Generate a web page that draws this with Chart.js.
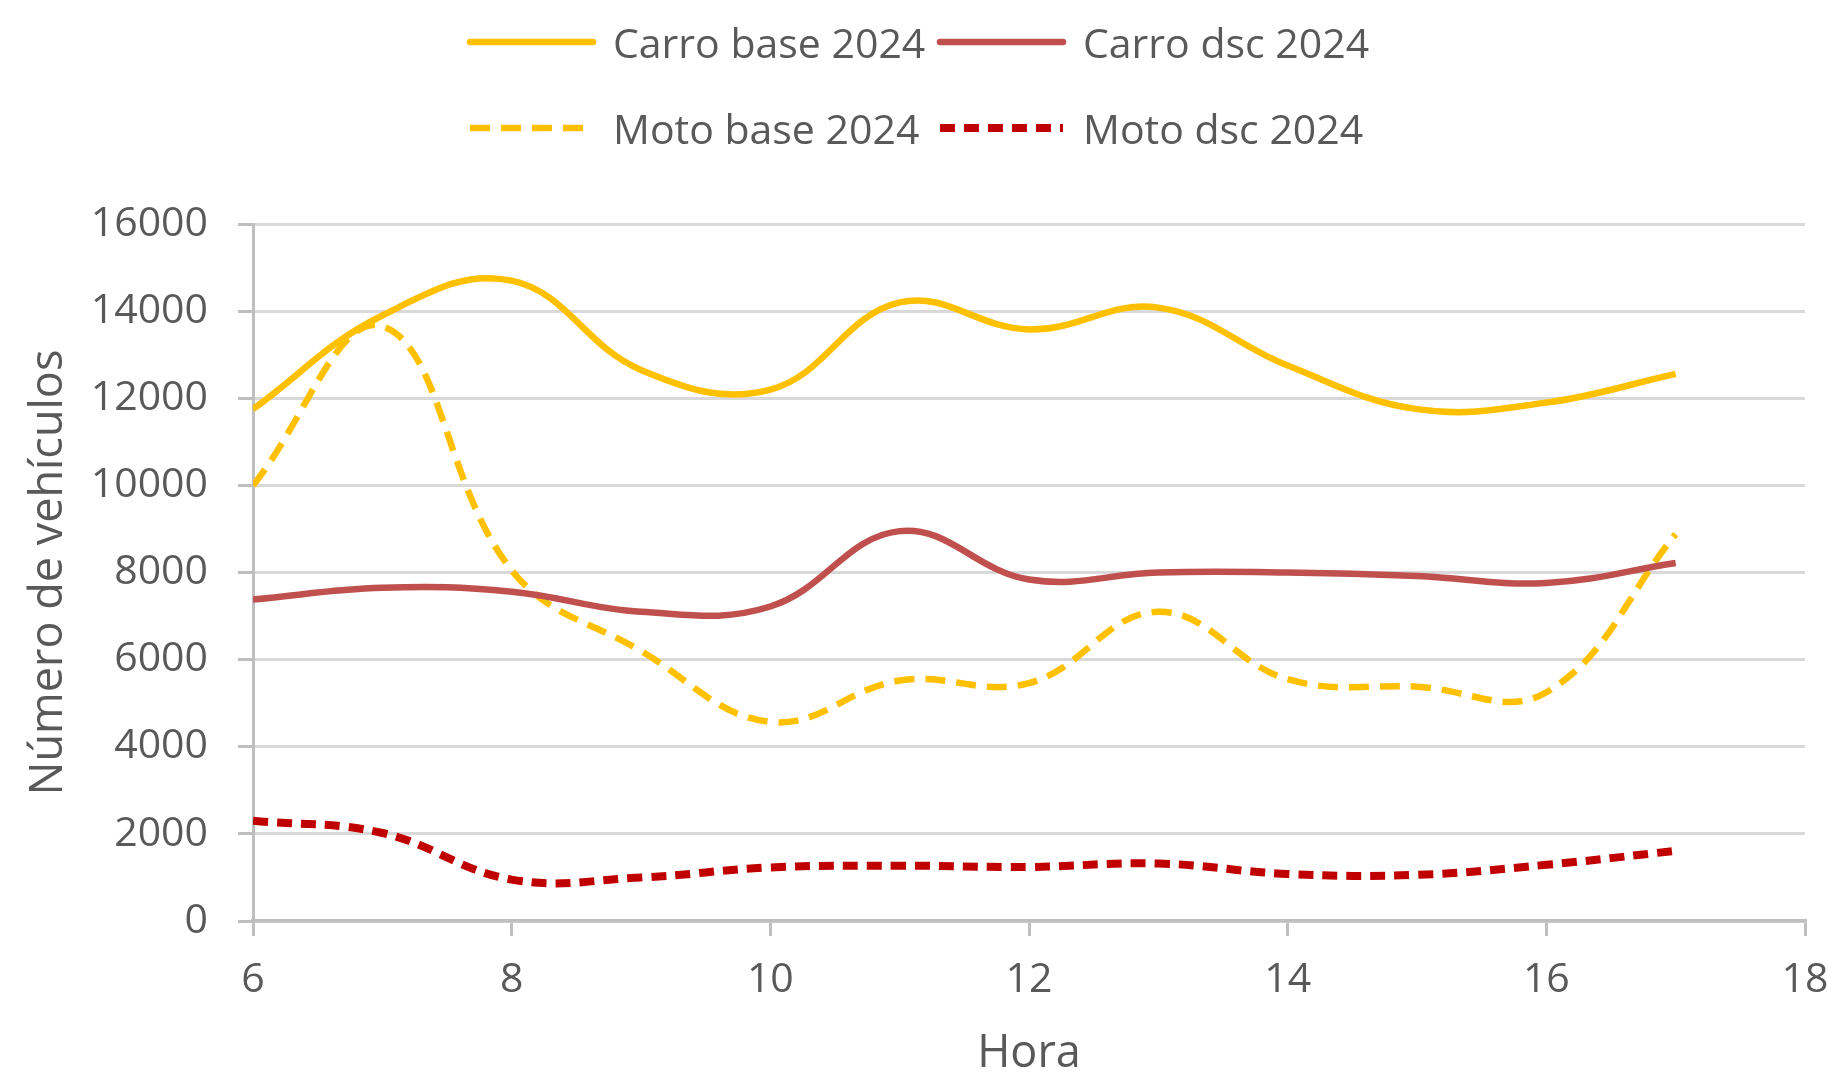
<!DOCTYPE html>
<html>
<head>
<meta charset="utf-8">
<script src="https://cdn.jsdelivr.net/npm/chart.js@4.4.1/dist/chart.umd.min.js"></script>
<style>
  html, body { margin: 0; padding: 0; background: #fff; }
  #wrap { position: relative; width: 1828px; height: 1076px; }
  #legend { position: absolute; left: 0; top: 0; width: 1828px; font-family: "Open Sans"; font-size: 41px; color: #595959; }
  .legend-item { position: absolute; display: flex; align-items: center; height: 60px; white-space: nowrap; }
  .legend-item svg { margin-right: 16px; }
</style>
</head>
<body>
<div id="wrap">
  <canvas id="chart" width="1828" height="1076"></canvas>
  <div id="legend"></div>
</div>
<script>
// ====== Data ======
const hours = [6, 7, 8, 9, 10, 11, 12, 13, 14, 15, 16, 17];
const carroBase = [11750, 13900, 14700, 12650, 12200, 14200, 13580, 14080, 12750, 11750, 11900, 12560];
const carroDsc = [7380, 7650, 7560, 7100, 7220, 8950, 7840, 8000, 8000, 7920, 7760, 8220];
const motoBase = [10000, 13650, 8050, 6200, 4570, 5520, 5460, 7100, 5550, 5380, 5250, 8880];
const motoDsc = [2300, 2020, 950, 1000, 1230, 1270, 1240, 1320, 1080, 1060, 1290, 1610];
const seriesNames = ["Carro base 2024", "Carro dsc 2024", "Moto base 2024", "Moto dsc 2024"];
const xTicks = [6, 8, 10, 12, 14, 16, 18];

const toPoints = vals => vals.map((v, i) => ({ x: hours[i], y: v }));

Chart.defaults.font.family = "Open Sans";
Chart.defaults.color = "#595959";

const ctx = document.getElementById("chart").getContext("2d");
const chart = new Chart(ctx, {
  type: "line",
  data: {
    datasets: [
      { label: seriesNames[0], data: toPoints(carroBase), borderColor: "#FFC000", borderWidth: 6.5 },
      { label: seriesNames[1], data: toPoints(carroDsc), borderColor: "#C0504D", borderWidth: 6.5 },
      { label: seriesNames[2], data: toPoints(motoBase), borderColor: "#FFC000", borderWidth: 6.5, borderDash: [20, 11] },
      { label: seriesNames[3], data: toPoints(motoDsc), borderColor: "#C00000", borderWidth: 8, borderDash: [15, 9] }
    ]
  },
  options: {
    responsive: false,
    animation: false,
    devicePixelRatio: 1,
    elements: {
      point: { radius: 0 },
      line: { tension: 0.4, fill: false, borderCapStyle: "butt" }
    },
    layout: { padding: { top: 224, right: 23, left: 0, bottom: 0 } },
    plugins: { legend: { display: false }, tooltip: { enabled: false } },
    scales: {
      x: {
        type: "linear",
        min: 6,
        max: 18,
        afterBuildTicks: s => { s.ticks = xTicks.map(v => ({ value: v })); },
        afterFit: s => { s.height = 1076 - 921; s.paddingLeft = 0; s.paddingRight = 0; },
        grid: { drawOnChartArea: false, drawTicks: true, tickLength: 15, tickColor: "#BFBFBF", lineWidth: 3 },
        border: { color: "#BFBFBF", width: 3.5 },
        ticks: { font: { size: 41 }, padding: 20, maxRotation: 0 },
        title: { display: true, text: "Hora", font: { size: 45, lineHeight: 0.95 }, padding: { top: 0, bottom: 0 } }
      },
      y: {
        min: 0,
        max: 16000,
        ticks: { stepSize: 2000, font: { size: 41 }, padding: 30, callback: v => String(v) },
        afterFit: s => { s.width = 253; },
        grid: { color: "#D9D9D9", lineWidth: 3, tickLength: 15, tickColor: "#BFBFBF" },
        border: { color: "#BFBFBF", width: 3 },
        title: { display: true, text: "Número de vehículos", font: { size: 45 }, padding: { top: 22, bottom: 0 } }
      }
    }
  }
});

// ====== HTML legend (2 x 2) ======
const legendDiv = document.getElementById("legend");
const colX = [466, 936];
const rowY = [42, 128];
chart.data.datasets.forEach((ds, i) => {
  const item = document.createElement("div");
  item.className = "legend-item";
  item.style.left = colX[i % 2] + "px";
  item.style.top = (rowY[Math.floor(i / 2)] - 30) + "px";
  const dash = ds.borderDash ? ds.borderDash.join(",") : "none";
  const cap = ds.borderDash ? "butt" : "round";
  item.innerHTML = `
    <svg width="131" height="12">
      <line x1="4" y1="6" x2="127" y2="6" stroke="${ds.borderColor}" stroke-width="${ds.borderWidth}"
            stroke-dasharray="${dash}" stroke-linecap="${cap}"></line>
    </svg>
    <span>${ds.label}</span>
  `;
  legendDiv.appendChild(item);
});
</script>
</body>
</html>
